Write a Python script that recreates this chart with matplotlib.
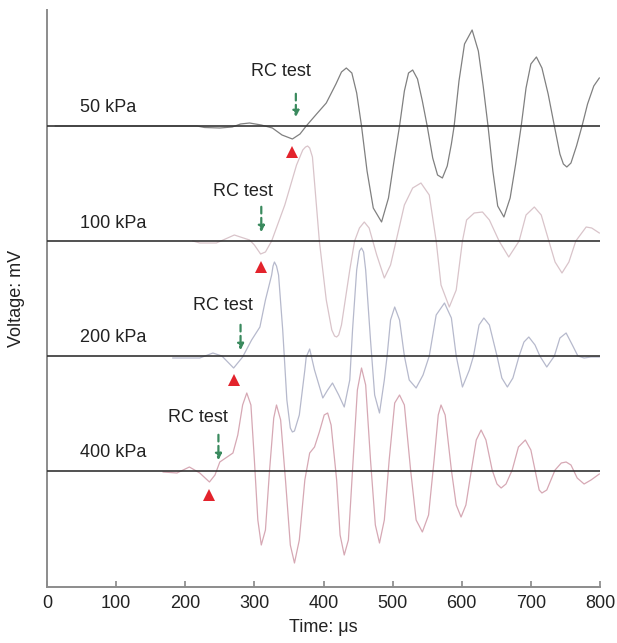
import numpy as np
import matplotlib
matplotlib.use("Agg")
import matplotlib.pyplot as plt

plt.rcParams['font.family'] = ['Liberation Sans', 'DejaVu Sans']

# confining pressures, trace offsets (mV) and colours
labels = ['50 kPa', '100 kPa', '200 kPa', '400 kPa']
offsets = [0.0, -1.15, -2.30, -3.45]
colors = ['#808080', '#d9c4ca', '#b6b9cc', '#d6a8b4']

# waveforms: time (us), voltage relative to baseline (mV)
t50 = [12, 217, 228, 250, 268, 280, 293, 310, 326, 340, 355, 366, 375, 390, 404, 418,
       426, 433, 441, 448, 455, 463, 472, 484, 494, 502, 510, 517, 523, 529, 536, 543,
       550, 558, 565, 572, 579, 585, 589, 596, 604, 615, 624, 631, 638, 645, 652, 661,
       670, 678, 686, 693, 700, 708, 716, 725, 734, 742, 747, 752, 758, 766, 774, 782,
       791, 799]
v50 = [0, 0, -0.015, -0.02, -0.01, 0.02, 0.03, 0.01, -0.02, -0.09, -0.13, -0.08, 0, 0.12,
       0.23, 0.42, 0.54, 0.58, 0.53, 0.33, 0, -0.45, -0.82, -0.96, -0.72, -0.35, 0, 0.35,
       0.53, 0.56, 0.47, 0.25, 0, -0.32, -0.49, -0.52, -0.40, -0.18, 0, 0.45, 0.82, 0.96,
       0.75, 0.40, 0, -0.45, -0.80, -0.91, -0.72, -0.38, 0, 0.38, 0.62, 0.69, 0.58, 0.32,
       0, -0.28, -0.38, -0.41, -0.37, -0.20, 0, 0.22, 0.40, 0.48]

t100 = [211, 221, 245, 271, 293, 300, 309, 316, 325, 344, 361, 370, 374, 377, 380, 384,
        394, 404, 412, 416, 419, 422, 426, 438, 445, 452, 459, 466, 477, 488, 497, 505,
        517, 529, 541, 553, 563, 570, 582, 592, 601, 607, 618, 630, 640, 654, 668, 683,
        693, 705, 715, 726, 735, 745, 755, 765, 780, 788, 799]
v100 = [0, -0.02, -0.02, 0.06, 0.01, -0.04, -0.13, -0.11, 0, 0.36, 0.76, 0.91, 0.94,
        0.95, 0.93, 0.84, 0, -0.59, -0.89, -0.95, -0.96, -0.94, -0.84, -0.29, 0, 0.13,
        0.19, 0.13, -0.14, -0.37, -0.24, 0, 0.36, 0.53, 0.58, 0.46, 0, -0.44, -0.66,
        -0.49, 0, 0.21, 0.28, 0.29, 0.21, 0, -0.16, 0, 0.26, 0.34, 0.26, 0, -0.21, -0.32,
        -0.21, 0, 0.14, 0.13, 0.08]

t200 = [182, 221, 240, 253, 270, 283, 296, 308, 316, 325, 327, 329, 332, 335, 341, 347,
        352, 355, 358, 365, 373, 375, 380, 387, 399, 406, 413, 422, 430, 438, 442, 448,
        452, 455, 458, 461, 468, 474, 481, 488, 492, 497, 503, 510, 517, 524, 534, 544,
        553, 563, 575, 585, 592, 601, 611, 617, 625, 632, 640, 651, 658, 666, 674, 683,
        690, 697, 706, 713, 723, 734, 742, 751, 760, 768, 777, 787, 799]
v200 = [-0.02, -0.02, 0.03, 0, -0.12, -0.01, 0.16, 0.29, 0.56, 0.81, 0.9, 0.94, 0.9, 0.81,
        0.26, -0.44, -0.72, -0.76, -0.75, -0.59, -0.14, -0.01, 0.07, -0.14, -0.42, -0.34,
        -0.27, -0.39, -0.51, -0.24, 0.26, 0.86, 1.05, 1.08, 1.04, 0.86, 0.16, -0.39, -0.57,
        -0.24, 0, 0.36, 0.49, 0.36, 0, -0.24, -0.32, -0.19, 0, 0.41, 0.53, 0.38, 0, -0.31,
        -0.14, 0, 0.31, 0.38, 0.31, 0, -0.22, -0.31, -0.22, 0, 0.14, 0.19, 0.11, 0, -0.11,
        0, 0.18, 0.23, 0.11, 0, -0.02, -0.01, -0.01]

t400 = [168, 188, 206, 221, 235, 243, 250, 269, 276, 283, 289, 295, 300, 305, 310, 316,
        322, 328, 332, 338, 345, 352, 358, 365, 373, 380, 387, 394, 401, 406, 411, 419,
        424, 430, 436, 442, 449, 455, 461, 468, 475, 481, 488, 495, 503, 510, 517, 526,
        534, 543, 552, 560, 566, 570, 576, 585, 592, 599, 606, 614, 621, 628, 635, 644,
        651, 657, 664, 673, 682, 692, 700, 706, 712, 716, 723, 735, 744, 751, 758, 767,
        777, 787, 799]
v400 = [-0.01, -0.02, 0.04, -0.02, -0.11, -0.04, 0.09, 0.18, 0.36, 0.66, 0.78, 0.66,
        0.11, -0.49, -0.74, -0.59, 0.01, 0.53, 0.66, 0.51, -0.09, -0.74, -0.92, -0.69,
        -0.09, 0.18, 0.24, 0.39, 0.56, 0.58, 0.46, -0.09, -0.64, -0.84, -0.69, 0.01, 0.81,
        1.03, 0.86, 0.11, -0.54, -0.72, -0.49, 0.11, 0.68, 0.76, 0.66, 0.01, -0.49, -0.61,
        -0.44, 0.11, 0.56, 0.66, 0.56, 0.01, -0.34, -0.46, -0.34, 0.01, 0.31, 0.41, 0.31,
        0.01, -0.13, -0.17, -0.13, 0.01, 0.24, 0.31, 0.21, 0.01, -0.19, -0.22, -0.19, 0.01,
        0.08, 0.09, 0.06, -0.07, -0.13, -0.09, -0.03]

times = [t50, t100, t200, t400]
volts = [v50, v100, v200, v400]

# picked arrival (red triangle) and annotation positions
pick_t = [355, 309, 270, 235]
pick_v = [-0.26, -0.26, -0.24, -0.24]
arrow_t = [360, 310, 280, 248]
arrow_top = [0.35, 0.37, 0.34, 0.39]
arrow_tip = [0.06, 0.06, 0.03, 0.08]
rc_t = [338, 284, 254, 219]
rc_v = [0.55, 0.49, 0.50, 0.53]
label_t = 48
label_v = [0.19, 0.18, 0.19, 0.18]

fig = plt.figure(figsize=(6.17, 6.43), dpi=100)
ax = fig.add_axes([47 / 617, 56 / 643, 553 / 617, 577 / 643])

for i in range(4):
    off = offsets[i]
    ax.axhline(off, color='#333333', lw=1.2, zorder=3)
    ax.plot(times[i], np.array(volts[i]) + off, color=colors[i], lw=0.9,
            solid_joinstyle='round', zorder=2)
    ax.plot(pick_t[i], pick_v[i] + off, marker='^', color='#e3232c', ms=8,
            markeredgewidth=0, zorder=5)
    ax.annotate('', xy=(arrow_t[i], arrow_tip[i] + off),
                xytext=(arrow_t[i], arrow_top[i] + off),
                arrowprops=dict(arrowstyle='-|>', color='#3a8a5e', lw=1.6,
                                linestyle=(0, (3, 2)), mutation_scale=9),
                zorder=4)
    ax.text(rc_t[i], rc_v[i] + off, 'RC test', ha='center', va='center',
            fontsize=13, color='#222222')
    ax.text(label_t, label_v[i] + off, labels[i], ha='left', va='center',
            fontsize=13, color='#222222')

ax.set_xlim(0, 800)
ax.set_ylim(-4.61, 1.16)
ax.set_xticks(np.arange(0, 801, 100))
ax.set_yticks([])
ax.tick_params(axis='x', direction='in', length=4, width=1.2, color='#888888',
               labelsize=13, pad=6, labelcolor='#222222')
for side in ['top', 'right']:
    ax.spines[side].set_visible(False)
for side in ['left', 'bottom']:
    ax.spines[side].set_color('#8c8c8c')
    ax.spines[side].set_linewidth(1.4)

ax.set_xlabel('Time: \u03bcs', fontsize=13, color='#222222', labelpad=5)
ax.set_ylabel('Voltage: mV', fontsize=13, color='#222222', labelpad=16)

fig.savefig('out.png', dpi=100)
